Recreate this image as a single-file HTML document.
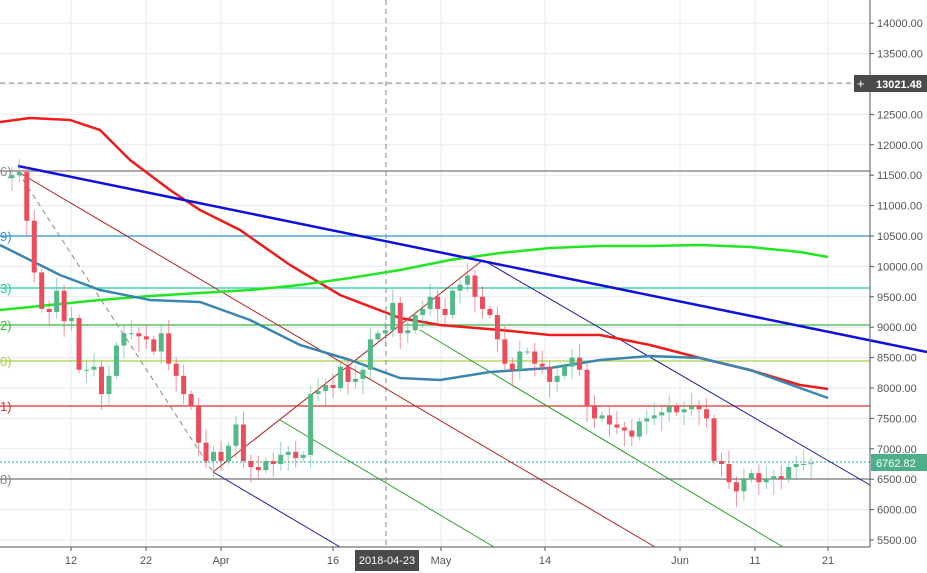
<!DOCTYPE html><html><head><meta charset="utf-8"><style>body{margin:0;background:#fff}svg{display:block;font-family:"Liberation Sans",sans-serif}</style></head><body>
<svg id="s" width="927" height="573" xmlns="http://www.w3.org/2000/svg">
<rect width="927" height="573" fill="#fff"/>
<g id="grid" stroke="#e3ecf2" stroke-width="1"></g>
<g id="main"></g>
</svg>
<script>
const S=document.getElementById('s'),G=document.getElementById('grid'),M=document.getElementById('main');
const ns='http://www.w3.org/2000/svg';
function el(p,t,a,txt){const e=document.createElementNS(ns,t);for(const k in a)e.setAttribute(k,a[k]);if(txt!==undefined)e.textContent=txt;p.appendChild(e);return e;}
const Y=p=>540-(p-5500)*0.0608, X=d=>221+d*7.47;
for(let p=5500;p<=14000;p+=500){const y=Y(p);el(G,'line',{x1:0,x2:870,y1:y,y2:y});}
[71,146,221,333,441,545,680,755,828].forEach(x=>el(G,'line',{x1:x,x2:x,y1:0,y2:547}));
// horizontal levels
[[171,'#777','6)','#888'],[236,'#2e8fd4','9)','#2e8fd4'],[288,'#1fce9e','3)','#1fce9e'],[325,'#3bb83b','2)','#3bb83b'],[361,'#a8d03c','0)','#a8d03c'],[406,'#d9302c','1)','#d9302c'],[479,'#777','8)','#888']].forEach(([y,c,t,tc])=>{el(M,'line',{x1:0,x2:870,y1:y,y2:y,stroke:c,'stroke-width':1.2});el(M,'text',{x:0,y:y+5,'font-size':13,fill:tc},t);});
el(M,'line',{x1:0,x2:870,y1:83,y2:83,stroke:'#888','stroke-dasharray':'5,4'});
el(M,'line',{x1:386,x2:386,y1:0,y2:547,stroke:'#888','stroke-dasharray':'5,4'});
el(M,'line',{x1:0,x2:870,y1:462,y2:462,stroke:'#26a69a','stroke-dasharray':'2,2'});
// diagonal lines
const L=(a,b,c,d,col,w,da)=>el(M,'line',{x1:a,y1:b,x2:c,y2:d,stroke:col,'stroke-width':w||1,'stroke-dasharray':da||'none'});
L(18,172,213,472,'#888',1,'5,4');
L(18,172,655,547,'#b22222',1);L(213,472,483,260,'#b22222',1);
L(213,472,340,547,'#1a1aa0',1);L(483,260,870,485,'#1a1aa0',1);
L(280,420,494,547,'#2aa02a',1);L(420,330,783,547,'#2aa02a',1);
// MAs
const P=(pts,c,w)=>el(M,'polyline',{points:pts.map(p=>p.join(',')).join(' '),fill:'none',stroke:c,'stroke-width':w});
P([[0,122],[30,118],[70,120],[100,130],[130,160],[170,190],[200,210],[240,230],[290,265],[340,295],[400,318],[440,325],[500,330],[550,335],[600,335],[650,345],[700,358],[750,370],[800,385],[828,389]],'#ee1c1c',2.5);
P([[0,310],[50,305],[100,300],[150,296],[200,293],[250,290],[300,285],[350,278],[400,270],[450,260],[500,253],[550,248],[600,246],[650,246],[700,245],[750,247],[800,252],[828,257]],'#22e622',2.5);
P([[0,245],[30,260],[60,275],[100,290],[150,300],[200,302],[250,320],[300,345],[350,360],[400,378],[440,380],[490,372],[550,368],[600,360],[650,356],[700,358],[750,370],[800,388],[828,398]],'#3a86b0',2.5);
L(18,166,927,352,'#1010dd',2.5);
// candles
const c=[11450,11500,11550,10750,9900,9300,9250,9600,9100,9150,8300,8300,8350,7900,8200,8700,8900,8900,8850,8800,8600,8900,8400,8200,7900,7700,7100,6800,6950,6800,7050,7400,6800,6700,6650,6800,6750,6900,6950,6850,6900,7900,7950,8050,8000,8350,8100,8150,8300,8800,8900,8950,9400,8900,8950,9200,9300,9500,9300,9200,9600,9700,9850,9500,9300,9200,8800,8400,8300,8600,8600,8400,8350,8100,8200,8350,8500,8300,7700,7500,7550,7400,7350,7300,7200,7450,7500,7550,7600,7700,7600,7650,7700,7650,7500,6800,6750,6450,6300,6500,6600,6450,6500,6550,6500,6700,6750,6750,6763];
for(let i=1;i<c.length;i++){const d=i-29,o=c[i-1],cl=c[i],up=cl>=o,col=up?'#53b987':'#eb4d5c';const x=X(d);
const hi=Math.max(o,cl)+60+((i*37)%5)*40,lo=Math.min(o,cl)-60-((i*53)%5)*50;
el(M,'line',{x1:x,x2:x,y1:Y(hi),y2:Y(lo),stroke:col,'stroke-width':1,opacity:.6});
const t=Y(Math.max(o,cl)),b=Y(Math.min(o,cl));el(M,'rect',{x:x-2.5,y:t,width:5,height:Math.max(1,b-t),fill:col});}
// axes
L(870,0,870,547,'#555',1);L(0,547,870,547,'#555',1);
for(let p=5500;p<=14000;p+=500){const y=Y(p);L(870,y,874,y,'#555',1);if(p!==13000)el(M,'text',{x:877,y:y+4,'font-size':11,fill:'#555'},p.toFixed(2));}
el(M,'rect',{x:854,y:75,width:73,height:17,fill:'#4a4a4a'});el(M,'text',{x:857,y:88,'font-size':13,fill:'#fff'},'+');
el(M,'text',{x:876,y:88,'font-size':11,fill:'#fff','font-weight':'bold'},'13021.48');
el(M,'rect',{x:871,y:454,width:56,height:17,fill:'#4caf8a'});el(M,'text',{x:876,y:467,'font-size':11,fill:'#fff'},'6762.82');
[[71,'12'],[146,'22'],[221,'Apr'],[333,'16'],[441,'May'],[545,'14'],[680,'Jun'],[755,'11'],[828,'21']].forEach(([x,t])=>{L(x,547,x,551,'#555',1);el(M,'text',{x:x,y:564,'font-size':11,fill:'#555','text-anchor':'middle'},t);});
el(M,'rect',{x:355,y:550,width:64,height:21,fill:'#4a4a4a'});el(M,'text',{x:387,y:564,'font-size':11,fill:'#fff','text-anchor':'middle'},'2018-04-23');
</script>
</body></html>
